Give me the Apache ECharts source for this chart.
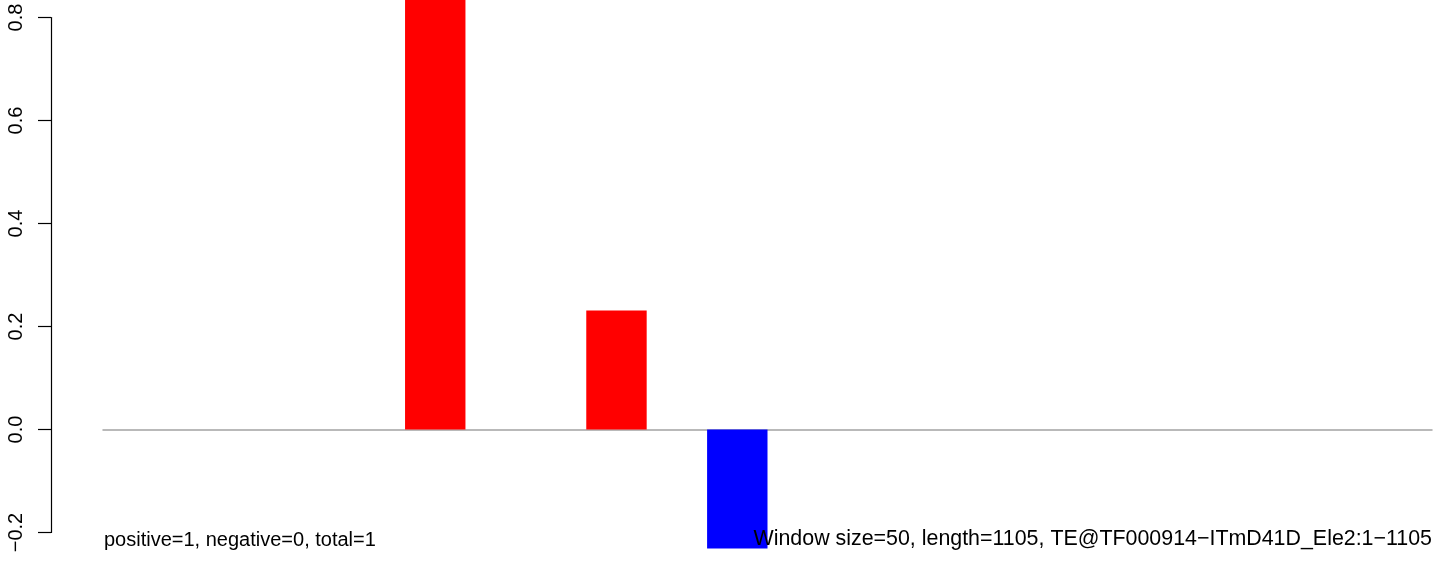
<!DOCTYPE html>
<html>
<head>
<meta charset="utf-8">
<script src="https://cdn.jsdelivr.net/npm/echarts@6/dist/echarts.min.js"></script>
<style>
html,body{margin:0;padding:0;background:#fff;}
#chart{width:1444px;height:565px;}
</style>
</head>
<body>
<div id="chart"></div>
<script>
// Data (22 windows of size 50 over length 1105)
const categories = ['1','2','3','4','5','6','7','8','9','10','11','12','13','14','15','16','17','18','19','20','21','22'];
const values = [0, 0, 0, 0, 0, 1.0, 0, 0, 0.231, 0, -0.231, 0, 0, 0, 0, 0, 0, 0, 0, 0, 0, 0];
const yTicks = [-0.2, 0.0, 0.2, 0.4, 0.6, 0.8];
const leftNote = 'positive=1, negative=0, total=1';
const rightNote = 'Window size=50, length=1105, TE@TF000914\u2212ITmD41D_Ele2:1\u22121105';

const FONT = '"Liberation Sans", Arial, Helvetica, sans-serif';
const chart = echarts.init(document.getElementById('chart'), null, {renderer: 'canvas'});

const option = {
  animation: false,
  backgroundColor: '#ffffff',
  grid: {left: 103, right: 12, top: 17.5, bottom: 32.5, containLabel: false},
  xAxis: {
    type: 'category',
    data: categories,
    boundaryGap: true,
    axisLine: {show: true, onZero: true, lineStyle: {color: '#a3a3a3', width: 1.5}},
    axisTick: {show: false},
    axisLabel: {show: false},
    splitLine: {show: false}
  },
  yAxis: {
    type: 'value',
    min: yTicks[0],
    max: yTicks[yTicks.length - 1],
    interval: 0.2,
    offset: 52,
    axisLine: {show: true, lineStyle: {color: '#000', width: 1.2}},
    axisTick: {show: true, inside: false, length: 13, lineStyle: {color: '#000', width: 1.2}},
    axisLabel: {
      show: true, rotate: 90, margin: 25,
      fontFamily: FONT, fontSize: 20, color: '#000',
      formatter: v => {
        const s = Number(v).toFixed(1);
        return s.replace('-', '\u2212');
      }
    },
    splitLine: {show: false}
  },
  series: [{
    type: 'bar',
    data: values.map(v => ({value: v, itemStyle: {color: v >= 0 ? '#ff0000' : '#0000ff'}})),
    barCategoryGap: '0%',
    clip: false,
    z: 2
  }],
  graphic: [
    {type: 'text', left: 104, top: 530, z: 100,
     style: {text: leftNote, font: '20px ' + FONT, fill: '#000'}},
    {type: 'text', right: 12, top: 529, z: 100,
     style: {text: rightNote, font: '21.4px ' + FONT, fill: '#000'}}
  ]
};
chart.setOption(option);
</script>
</body>
</html>
